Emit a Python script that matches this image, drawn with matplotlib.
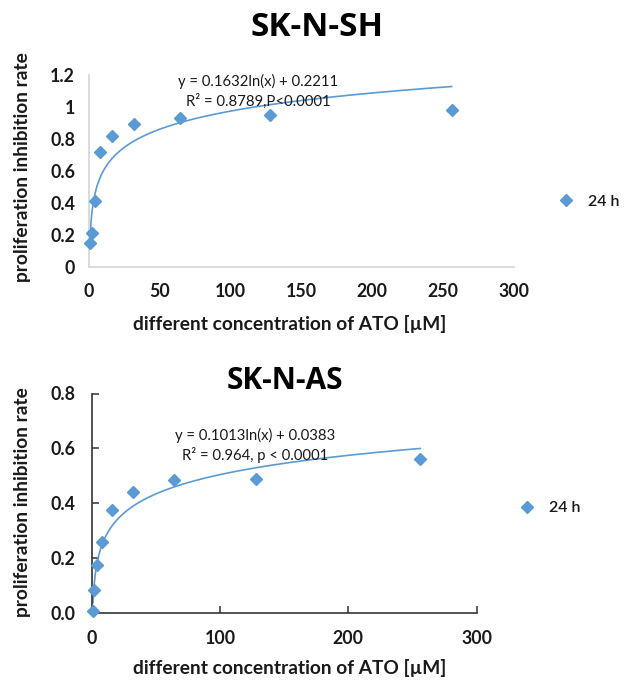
import numpy as np
import matplotlib
matplotlib.use("Agg")
import matplotlib.pyplot as plt

plt.rcParams['font.family'] = ['Lato', 'DejaVu Sans']

W, H = 632, 682

# ATO concentrations (µM) and 24 h proliferation inhibition rates
concentration = [1, 2, 4, 8, 16, 32, 64, 128, 256]
sh_rate = [0.15, 0.21, 0.41, 0.72, 0.82, 0.895, 0.93, 0.95, 0.98]
as_rate = [0.01, 0.085, 0.175, 0.26, 0.375, 0.44, 0.485, 0.49, 0.56]

# logarithmic trendline coefficients: y = a*ln(x) + b
sh_fit = (0.1632, 0.2211)
as_fit = (0.1013, 0.0383)

sh_eq = ["y = 0.1632ln(x) + 0.2211", "R\u00b2 = 0.8789,P<0.0001"]
as_eq = ["y = 0.1013ln(x) + 0.0383", "R\u00b2 = 0.964, p < 0.0001"]

sh_yticks = [0, 0.2, 0.4, 0.6, 0.8, 1.0, 1.2]
sh_yticklabels = ["0", "0.2", "0.4", "0.6", "0.8", "1", "1.2"]
sh_xticks = [0, 50, 100, 150, 200, 250, 300]
as_yticks = [0.0, 0.2, 0.4, 0.6, 0.8]
as_yticklabels = ["0.0", "0.2", "0.4", "0.6", "0.8"]
as_xticks = [0, 100, 200, 300]

BLUE = '#5B9BD5'
TXT = '#1a1a1a'

fig = plt.figure(figsize=(W / 100, H / 100), dpi=100)
fig.patch.set_facecolor('white')


def frac(px, py):
    return px / W, 1 - py / H


def make_axes(x0, x1, ytop, ybot):
    return fig.add_axes([x0 / W, 1 - ybot / H, (x1 - x0) / W, (ybot - ytop) / H])


def draw_panel(ax, rate, fit, eq, title, title_xy, eq_xy, legend_xy, ylabel_xy, xlabel_xy,
               title_size):
    x = np.array(concentration, dtype=float)
    ax.plot(x, rate, linestyle='none', marker='D', ms=6.6, color=BLUE,
            markeredgecolor=BLUE, label='24 h', zorder=3, clip_on=False)
    xs = np.linspace(1, 256, 600)
    ax.plot(xs, fit[0] * np.log(xs) + fit[1], color=BLUE, lw=1.2, zorder=2)
    ax.set_xlim(0, 300)

    ax.set_title(title, x=0, y=0, fontsize=title_size, fontweight='bold',
                 family=['Open Sans', 'DejaVu Sans'], color='black', va='center')
    ax.title.set_transform(fig.transFigure)
    ax.title.set_position(frac(*title_xy))

    ex, ey = eq_xy
    ax.text(*frac(ex, ey), eq[0], transform=fig.transFigure, ha='center', va='center',
            fontsize=10.7, color=TXT)
    ax.text(*frac(ex, ey + 20), eq[1], transform=fig.transFigure, ha='center', va='center',
            fontsize=10.7, color=TXT)

    ax.set_ylabel('proliferation inhibition rate', fontsize=13.8, fontweight='bold',
                  color=TXT, va='center', ha='center')
    ax.yaxis.set_label_coords(*frac(*ylabel_xy), transform=fig.transFigure)
    ax.set_xlabel('different concentration of ATO [\u00b5M]', fontsize=13.8,
                  fontweight='bold', color=TXT, va='center', ha='center')
    ax.xaxis.set_label_coords(*frac(*xlabel_xy), transform=fig.transFigure)

    ax.legend(loc='center left', bbox_to_anchor=frac(*legend_xy),
              bbox_transform=fig.transFigure, frameon=False, handlelength=1.0,
              handletextpad=0.9, borderpad=0, borderaxespad=0,
              prop={'weight': 'semibold', 'size': 11.5}, labelcolor=TXT)
    for s in ('top', 'right'):
        ax.spines[s].set_visible(False)
    for lab in ax.get_xticklabels() + ax.get_yticklabels():
        lab.set_fontweight('bold')
        lab.set_color(TXT)
        lab.set_fontsize(12.8)


# ---- SK-N-SH ----
ax1 = make_axes(89, 514, 74.7, 266.7)
ax1.set_ylim(0, 1.2)
ax1.set_xticks(sh_xticks)
ax1.set_yticks(sh_yticks)
ax1.set_yticklabels(sh_yticklabels)
ax1.tick_params(length=0)
ax1.tick_params(axis='y', pad=10)
ax1.tick_params(axis='x', pad=12)
for s in ('left', 'bottom'):
    ax1.spines[s].set_color('#d4d4d4')
    ax1.spines[s].set_linewidth(1.2)
draw_panel(ax1, sh_rate, sh_fit, sh_eq, 'SK-N-SH', (317, 27), (258, 81), (558, 201.5),
           (23, 167), (290, 324), 24)

# ---- SK-N-AS ----
ax2 = make_axes(91.7, 476.7, 393.5, 613.3)
ax2.set_ylim(0, 0.8)
ax2.set_xticks(as_xticks)
ax2.set_yticks(as_yticks)
ax2.set_yticklabels(as_yticklabels)
ax2.tick_params(direction='in', length=5, width=1.1, color='#333333')
ax2.tick_params(axis='y', pad=12)
ax2.tick_params(axis='x', pad=12)
for s in ('left', 'bottom'):
    ax2.spines[s].set_color('#333333')
    ax2.spines[s].set_linewidth(1.2)
draw_panel(ax2, as_rate, as_fit, as_eq, 'SK-N-AS', (285, 381), (255, 435), (519, 508),
           (23, 502), (290, 668), 21.5)

fig.savefig('out.png', dpi=100, facecolor='white')
